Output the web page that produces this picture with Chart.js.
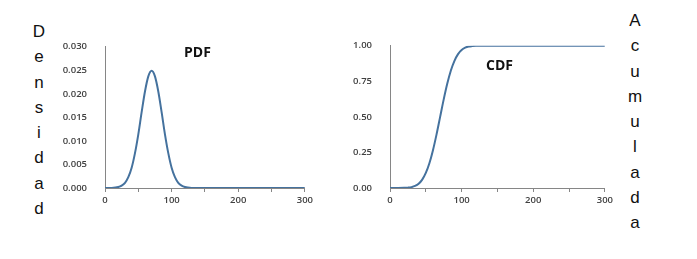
<!DOCTYPE html>
<html lang="es">
<head>
    <meta charset="UTF-8">
    <title>PDF y CDF</title>
    <style>
        body { margin: 0; background: #fff; width: 697px; height: 259px; position: relative; overflow: hidden; font-family: "Liberation Sans", Arial, sans-serif; }
        .box { position: absolute; }
        .vert { position: absolute; font-size: 17px; color: #111; text-align: center; width: 20px; line-height: 25.3px; }
        .ttl { position: absolute; font-family: "Open Sans", sans-serif; font-weight: bold; font-size: 14px; color: #111; }
    </style>
    <script src="https://cdn.jsdelivr.net/npm/chart.js"></script>
</head>
<body>
    <div class="vert" style="left:29px; top:19px;">D<br>e<br>n<br>s<br>i<br>d<br>a<br>d</div>
    <div class="vert" style="left:625px; top:8px;">A<br>c<br>u<br>m<br>u<br>l<br>a<br>d<br>a</div>

    <div class="box" style="left:60px; top:31px; width:256px; height:187px;"><canvas id="pdfChart"></canvas></div>
    <div class="box" style="left:345px; top:30px; width:271px; height:188px;"><canvas id="cdfChart"></canvas></div>

    <div class="ttl" style="left:184px; top:42px;">PDF</div>
    <div class="ttl" style="left:486px; top:55px;">CDF</div>

    <script>
        // valores
        const xValues = [0, 10, 20, 25, 30, 35, 40, 45, 50, 55, 60, 65, 70, 75, 80, 85, 90, 95, 100, 105, 110, 115, 120, 130, 140, 150, 200, 250, 300];
        const pdfValues = [0, 0.00002, 0.0002, 0.0005, 0.0011, 0.0023, 0.0043, 0.0074, 0.0114, 0.0161, 0.0205, 0.0237, 0.0249, 0.0237, 0.0205, 0.0161, 0.0114, 0.0074, 0.0043, 0.0023, 0.0011, 0.0005, 0.0002, 0.00002, 0, 0, 0, 0, 0];
        const cdfValues = [0, 0.0001, 0.0009, 0.0026, 0.0062, 0.0143, 0.030, 0.059, 0.106, 0.174, 0.266, 0.377, 0.5, 0.623, 0.734, 0.826, 0.894, 0.941, 0.970, 0.986, 0.994, 0.997, 0.999, 1.0, 1.0, 1.0, 1.0, 1.0, 1.0];
        const xTicks = [0, 100, 200, 300];

        const axisColor = '#868686';
        const tickFont = { family: 'Open Sans', size: 9.5, weight: '600' };

        function makeChart(id, values, yMax, yStep, decimals) {
            const ctx = document.getElementById(id).getContext('2d');
            return new Chart(ctx, {
                type: 'line',
                data: {
                    datasets: [{
                        data: xValues.map((x, i) => ({ x: x, y: values[i] })),
                        borderColor: '#45729e',
                        borderWidth: 2,
                        pointRadius: 0,
                        cubicInterpolationMode: 'monotone',
                        fill: false
                    }]
                },
                options: {
                    responsive: true,
                    maintainAspectRatio: false,
                    animation: false,
                    layout: { padding: { top: 0, right: 10, left: 0, bottom: 0 } },
                    plugins: { legend: { display: false }, tooltip: { enabled: false } },
                    scales: {
                        x: {
                            type: 'linear',
                            min: 0,
                            max: 300,
                            ticks: {
                                stepSize: 50,
                                autoSkip: false,
                                maxRotation: 0,
                                padding: 3,
                                color: '#404040',
                                font: tickFont,
                                callback: v => xTicks.includes(v) ? v : ''
                            },
                            grid: { drawOnChartArea: false, tickLength: 4, color: axisColor },
                            border: { color: axisColor, width: 1 },
                            afterFit: s => { s.height = 30; }
                        },
                        y: {
                            min: 0,
                            max: yMax,
                            ticks: {
                                stepSize: yStep,
                                padding: 10,
                                color: '#404040',
                                font: tickFont,
                                callback: v => Number(v).toFixed(decimals)
                            },
                            grid: { display: false },
                            border: { color: axisColor, width: 1 },
                            afterFit: s => { s.width = 45; }
                        }
                    }
                }
            });
        }

        makeChart('pdfChart', pdfValues, 0.03, 0.005, 3);
        makeChart('cdfChart', cdfValues, 1, 0.25, 2);
    </script>
</body>
</html>
